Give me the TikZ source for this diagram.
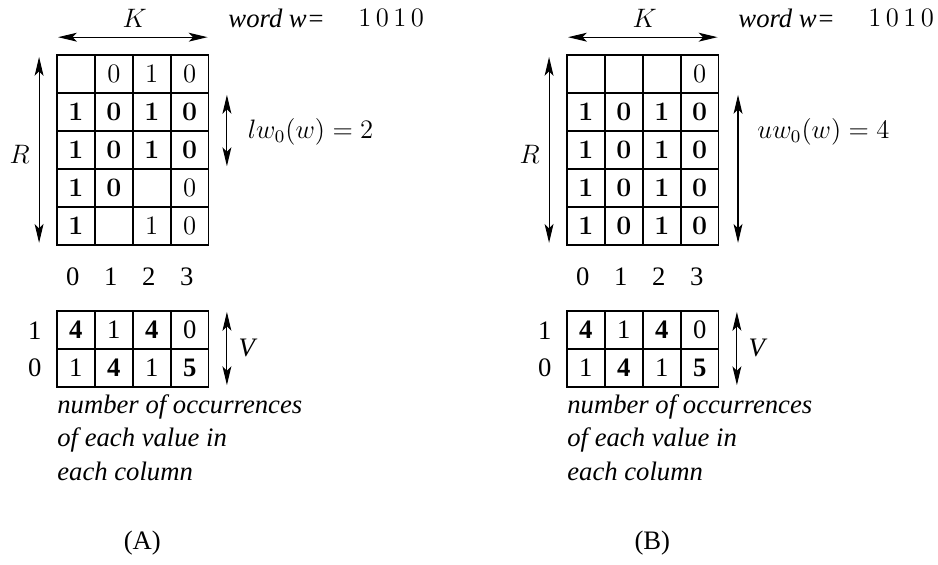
\documentclass[tikz,border=0pt,12pt]{standalone}
\usepackage{fontspec}
\newfontfamily\tms{Liberation Serif}
\usepackage{tikz}
\usetikzlibrary{arrows.meta,positioning}
\tikzset{
  cell/.style={draw,line width=0.7pt,minimum size=0.6cm,inner sep=0pt},
  dimline/.style={{Stealth[length=8.5pt,width=4pt,inset=2pt]}-{Stealth[length=8.5pt,width=4pt,inset=2pt]},line width=0.5pt},
  txt/.style={font=\tms,inner sep=0pt},
  lbl/.style={inner sep=0pt}
}

\begin{document}
\begin{tikzpicture}[x=0.6cm,y=0.6cm]
  \useasboundingbox (-1.50,1.45) rectangle (23.22,-13.44);
  % parts shared by both panels
  \foreach \p/\dx in {A/0,B/13.44}{
    \begin{scope}[shift={(\dx,0)}]
      \coordinate (\p-kl) at (0.03,0.47);
      \coordinate (\p-kr) at (3.97,0.47);
      \draw[dimline] (\p-kl) -- (\p-kr);
      \node[lbl] (\p-K) at (2.05,0.97) {$K$};
      \node[txt,anchor=west] (\p-word) at (4.51,0.97) {\itshape word w=};
      \node[lbl,anchor=west] (\p-w) at (7.93,0.97) {1\,0\,1\,0};
      \coordinate (\p-rt) at (-0.47,-0.05);
      \coordinate (\p-rb) at (-0.47,-4.95);
      \draw[dimline] (\p-rt) -- (\p-rb);
      \node[lbl] (\p-R) at (-0.98,-2.61) {$R$};
      \foreach \c in {0,...,3}
        \node[txt] (\p-col\c) at (\c+0.42,-5.85) {\c};
      % occurrence counts
      \foreach \v [count=\c from 0] in {\textbf{4},1,\textbf{4},0}
        \node[cell,font=\tms] (\p-one\c) at (\c+0.5,-7.25) {\v};
      \foreach \v [count=\c from 0] in {1,\textbf{4},1,\textbf{5}}
        \node[cell,font=\tms] (\p-zero\c) at (\c+0.5,-8.25) {\v};
      \node[txt] (\p-v1) at (-0.58,-7.27) {1};
      \node[txt] (\p-v0) at (-0.58,-8.25) {0};
      \coordinate (\p-vt) at (4.48,-6.77);
      \coordinate (\p-vb) at (4.48,-8.70);
      \draw[dimline] (\p-vt) -- (\p-vb);
      \node[txt,anchor=west] (\p-V) at (4.78,-7.72) {\itshape V};
      \node[txt,anchor=base west] (\p-n1) at (0,-9.46) {\itshape number of occurrences};
      \node[txt,anchor=base west] (\p-n2) at (0,-10.33) {\itshape of each value in};
      \node[txt,anchor=base west] (\p-n3) at (0,-11.20) {\itshape each column};
      \node[txt] (\p-cap) at (2.25,-12.86) {(\p)};
    \end{scope}
  }
  % panel A
  \foreach \r/\row in {0/{{},0,1,0},1/{\textbf{1},\textbf{0},\textbf{1},\textbf{0}},2/{\textbf{1},\textbf{0},\textbf{1},\textbf{0}},3/{\textbf{1},\textbf{0},{},0},4/{\textbf{1},{},1,0}}
    \foreach \v [count=\c from 0] in \row
      \node[cell] (A-\r\c) at (\c+0.5,-\r-0.5) {\v};
  \coordinate (A-lt) at (4.48,-1.05);
  \coordinate (A-lb) at (4.48,-2.93);
  \draw[dimline] (A-lt) -- (A-lb);
  \node[lbl,anchor=west] (A-lw) at (5.02,-2.03) {$lw_0(w) = 2$};
  % panel B
  \begin{scope}[shift={(13.44,0)}]
    \foreach \r/\row in {0/{{},{},{},0},1/{\textbf{1},\textbf{0},\textbf{1},\textbf{0}},2/{\textbf{1},\textbf{0},\textbf{1},\textbf{0}},3/{\textbf{1},\textbf{0},\textbf{1},\textbf{0}},4/{\textbf{1},\textbf{0},\textbf{1},\textbf{0}}}
      \foreach \v [count=\c from 0] in \row
        \node[cell] (B-\r\c) at (\c+0.5,-\r-0.5) {\v};
    \coordinate (B-ut) at (4.51,-1.05);
    \coordinate (B-ub) at (4.51,-4.95);
    \draw[dimline] (B-ut) -- (B-ub);
    \node[lbl,anchor=west] (B-uw) at (5.01,-2.03) {$uw_0(w) = 4$};
  \end{scope}
\end{tikzpicture}
\end{document}
